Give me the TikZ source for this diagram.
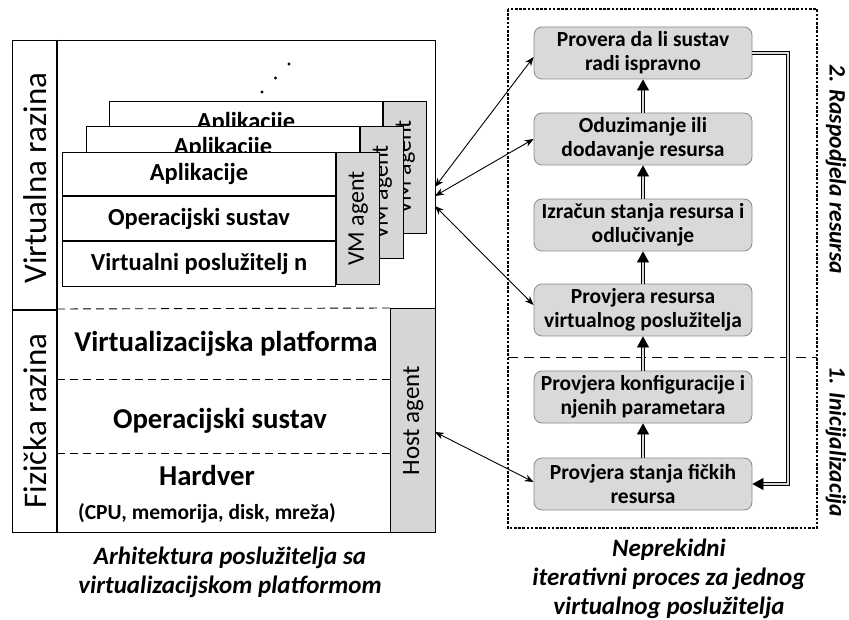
\documentclass[tikz,border=0pt]{standalone}
\usepackage{fontspec}
\usepackage{graphicx}
\setmainfont{Carlito}
\usetikzlibrary{arrows.meta}
\definecolor{agentgray}{HTML}{D6D6D6}
\definecolor{boxgray}{HTML}{D9D9D9}
\definecolor{boxedge}{HTML}{8A8A8A}
\tikzset{
  frame/.style={draw, line width=1.4pt},
  row/.style={draw, line width=1.1pt, fill=white, inner sep=0pt, minimum width=273pt, font=\fontsize{24.5}{26}\selectfont\bfseries},
  agentbox/.style={draw, line width=1.1pt, fill=agentgray, inner sep=0pt, minimum width=43pt, minimum height=132pt, font=\fontsize{24}{26}\selectfont},
  layerdash/.style={dashed, dash pattern=on 8pt off 5pt, line width=0.9pt},
  layertext/.style={font=\fontsize{28.8}{31}\selectfont\bfseries, inner sep=0pt},
  sidetext/.style={font=\fontsize{33}{35}\selectfont, inner sep=0pt, rotate=90},
  stepbox/.style={draw=boxedge, line width=0.8pt, fill=boxgray, rounded corners=8pt, minimum width=218pt, minimum height=52pt, inner sep=1pt, align=center, font=\fontsize{21.5}{24}\selectfont\bfseries},
  dblarrow/.style={draw, line width=0.7pt, double=boxgray, double distance=2.2pt, -{Triangle[length=11pt,width=12pt]}},
  link/.style={line width=0.9pt, {Stealth[length=9pt,width=7pt]}-{Stealth[length=9pt,width=7pt]}},
  caption/.style={font=\fontsize{25}{29}\selectfont\bfseries\itshape, align=center, inner sep=0pt},
  phase/.style={font=\fontsize{23.5}{25}\selectfont\bfseries\itshape, inner sep=0pt, rotate=-90},
  dotbox/.style={line width=1.4pt, dash pattern=on 2.6pt off 1.6pt},
  sepdash/.style={line width=0.9pt, dash pattern=on 10pt off 6pt}
}
\newcommand\vmstack[3]{%
  \node[row, minimum height=43pt, anchor=north west] (app#3) at (#1,#2) {Aplikacije};
  \node[row, minimum height=44pt, anchor=north] (os#3) at (app#3.south) {Operacijski sustav};
  \node[row, minimum height=45pt, anchor=north] (vs#3) at (os#3.south) {Virtualni poslužitelj n};
  \node[agentbox, anchor=north west] (agent#3) at (app#3.north east) {\rotatebox{90}{VM agent}};
}
\begin{document}
\begin{tikzpicture}[x=1pt,y=-1pt]
\useasboundingbox (0,0) rectangle (849,620);
% left architecture frame
\node[frame, inner sep=0pt, minimum width=423pt, minimum height=492pt, anchor=north west] (outer) at (12,40) {};
\draw[frame] (57,40) -- (57,532);
\draw[frame] (12,310) -- (57,310);
\node[draw, line width=1.4pt, fill=agentgray, inner sep=0pt, minimum width=45pt, minimum height=224pt, anchor=north west] (host) at (390,308) {\fontsize{25}{27}\selectfont\rotatebox{90}{Host agent}};
\draw[layerdash] (57,309) -- (host.north west);
\draw[layerdash] (57,379) -- (390,379);
\draw[layerdash] (57,453) -- (390,453);
\node[sidetext] (vlabel) at (35,178) {Virtualna razina};
\node[sidetext] (flabel) at (35,421) {Fizička razina};
\node[layertext] (vplat) at (226,344) {Virtualizacijska platforma};
\node[layertext] (hos) at (220,421) {Operacijski sustav};
\node[layertext] (hw) at (207,476) {Hardver};
\node[font=\fontsize{21.5}{23}\selectfont\bfseries, inner sep=0pt] (hwsub) at (207,513) {(CPU, memorija, disk, mreža)};
% VM stacks
\vmstack{109}{101}{c}
\vmstack{86}{126}{b}
\vmstack{62}{152}{a}
\fill (262,92) circle (1.6pt);
\fill (275.5,78) circle (1.6pt);
\fill (289,64) circle (1.6pt);
\node[caption] (lcap) at (230,572) {Arhitektura poslužitelja sa\\virtualizacijskom platformom};
% right process
\draw[dotbox] (508,9) rectangle (817,528);
\draw[sepdash] (508,357) -- (817,357);
\node[stepbox] (b1) at (643,53) {Provera da li sustav\\radi ispravno};
\node[stepbox] (b2) at (643,139) {Oduzimanje ili\\dodavanje resursa};
\node[stepbox] (b3) at (643,225) {Izračun stanja resursa i\\odlučivanje};
\node[stepbox] (b4) at (643,310) {Provjera resursa\\virtualnog poslužitelja};
\node[stepbox] (b5) at (643,397) {Provjera konfiguracije i\\njenih parametara};
\node[stepbox] (b6) at (643,484) {Provjera stanja fičkih\\resursa};
\draw[dblarrow] (b6.north) -- (b5.south);
\draw[dblarrow] (b5.north) -- (b4.south);
\draw[dblarrow] (b4.north) -- (b3.south);
\draw[dblarrow] (b3.north) -- (b2.south);
\draw[dblarrow] (b2.north) -- (b1.south);
\coordinate (loop) at (788,53);
\draw[dblarrow] (b1.east) -- (loop) |- (b6.east);
\node[phase] (p2) at (836,169) {2. Raspodjela resursa};
\node[phase] (p1) at (836,442) {1. Inicijalizacija};
\node[caption] (rcap) at (669,579) {Neprekidni\\iterativni proces za jednog\\virtualnog poslužitelja};
% links
\coordinate (vp1) at (435,187);
\coordinate (vp2) at (435,196);
\coordinate (vp3) at (435,206);
\coordinate (hp) at (435,432);
\draw[link] (vp1) -- ([yshift=-4pt]b1.west);
\draw[link] (vp2) -- (b2.west);
\draw[link] (vp3) -- ([yshift=5pt]b4.west);
\draw[link] (hp) -- ([yshift=2pt]b6.west);
\end{tikzpicture}
\end{document}
